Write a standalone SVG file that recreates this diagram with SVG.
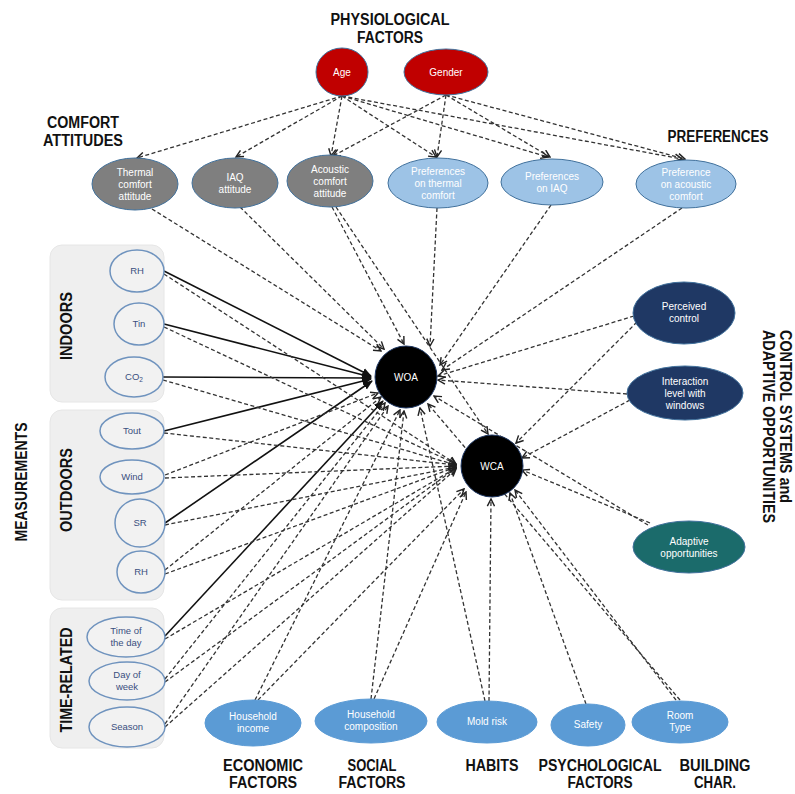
<svg xmlns="http://www.w3.org/2000/svg" width="795" height="794" viewBox="0 0 795 794">
<defs>
<style>
text{font-family:"Liberation Sans",Arial,sans-serif}
.h{font-weight:bold;font-size:16px;fill:#111;text-anchor:middle}
.nl{font-size:10px;fill:#fff;text-anchor:middle}
.ml{font-size:9.5px;fill:#3A4F7F;text-anchor:middle}
.d{fill:none;stroke:#333;stroke-width:1.3;stroke-dasharray:4 2.5;marker-end:url(#ao)}
.s{fill:none;stroke:#111;stroke-width:1.6;marker-end:url(#af)}
.red{fill:#C00000;stroke:#41719C;stroke-width:1}
.gray{fill:#7F7F7F;stroke:#41719C;stroke-width:1}
.lb{fill:#9DC3E6;stroke:#41719C;stroke-width:1}
.meas{fill:#F2F2F2;stroke:#6F93BE;stroke-width:1.5}
.navy{fill:#1F3864;stroke:#41719C;stroke-width:1}
.teal{fill:#1B6B6B;stroke:#41719C;stroke-width:1}
.bot{fill:#5B9BD5;stroke:#5B9BD5;stroke-width:1}
.blk{fill:#000;stroke:#1F3864;stroke-width:1}
.panel{fill:#EFEFEF;stroke:#E6E6E6;stroke-width:1}
</style>
<marker id="ao" viewBox="0 0 10 10" refX="9" refY="5" markerWidth="9" markerHeight="9" orient="auto" markerUnits="userSpaceOnUse"><path d="M1,1 L9,5 L1,9" fill="none" stroke="#222" stroke-width="1.6" stroke-dasharray="none"/></marker>
<marker id="af" viewBox="0 0 10 10" refX="9" refY="5" markerWidth="10" markerHeight="10" orient="auto" markerUnits="userSpaceOnUse"><path d="M0,1 L10,5 L0,9 z" fill="#111"/></marker>
</defs>
<rect width="795" height="794" fill="#fff"/>

<g id="panels">
<rect class="panel" x="50" y="245" width="114" height="157" rx="12"/>
<rect class="panel" x="50" y="410" width="114" height="190" rx="12"/>
<rect class="panel" x="50" y="608" width="114" height="140" rx="12"/>
</g>

<g id="labels">
<text class="h" x="390" y="25" textLength="119" lengthAdjust="spacingAndGlyphs">PHYSIOLOGICAL</text>
<text class="h" x="390" y="43" textLength="66" lengthAdjust="spacingAndGlyphs">FACTORS</text>
<text class="h" x="83" y="128" textLength="72" lengthAdjust="spacingAndGlyphs">COMFORT</text>
<text class="h" x="83" y="146" textLength="80" lengthAdjust="spacingAndGlyphs">ATTITUDES</text>
<text class="h" x="718" y="142" textLength="101" lengthAdjust="spacingAndGlyphs">PREFERENCES</text>
<text class="h" transform="translate(72,326) rotate(-90)" textLength="68" lengthAdjust="spacingAndGlyphs">INDOORS</text>
<text class="h" transform="translate(72,490) rotate(-90)" textLength="84" lengthAdjust="spacingAndGlyphs">OUTDOORS</text>
<text class="h" transform="translate(72,680) rotate(-90)" textLength="105" lengthAdjust="spacingAndGlyphs">TIME-RELATED</text>
<text class="h" transform="translate(27,482) rotate(-90)" textLength="119" lengthAdjust="spacingAndGlyphs">MEASUREMENTS</text>
<text class="h" style="text-anchor:start" transform="translate(780,330) rotate(90)" textLength="173" lengthAdjust="spacingAndGlyphs">CONTROL SYSTEMS and</text>
<text class="h" style="text-anchor:start" transform="translate(763,330) rotate(90)" textLength="193" lengthAdjust="spacingAndGlyphs">ADAPTIVE OPPORTUNITIES</text>
<text class="h" x="263" y="771" textLength="80" lengthAdjust="spacingAndGlyphs">ECONOMIC</text>
<text class="h" x="263" y="788" textLength="68" lengthAdjust="spacingAndGlyphs">FACTORS</text>
<text class="h" x="372" y="771" textLength="49" lengthAdjust="spacingAndGlyphs">SOCIAL</text>
<text class="h" x="372" y="788" textLength="67" lengthAdjust="spacingAndGlyphs">FACTORS</text>
<text class="h" x="492" y="771" textLength="53" lengthAdjust="spacingAndGlyphs">HABITS</text>
<text class="h" x="600" y="771" textLength="123" lengthAdjust="spacingAndGlyphs">PSYCHOLOGICAL</text>
<text class="h" x="600" y="788" textLength="65" lengthAdjust="spacingAndGlyphs">FACTORS</text>
<text class="h" x="715" y="771" textLength="71" lengthAdjust="spacingAndGlyphs">BUILDING</text>
<text class="h" x="715" y="788" textLength="42" lengthAdjust="spacingAndGlyphs">CHAR.</text>
</g>

<g id="connectors">
<path class="d" d="M342,96 L137,158"/>
<path class="d" d="M342,96 L236,157"/>
<path class="d" d="M342,96 L331,156"/>
<path class="d" d="M342,96 L436,157"/>
<path class="d" d="M342,96 L548,157"/>
<path class="d" d="M342,96 L682,159"/>
<path class="d" d="M446,95 L333,156"/>
<path class="d" d="M446,95 L437,157"/>
<path class="d" d="M446,95 L550,157"/>
<path class="d" d="M446,95 L685,159"/>

<path class="d" d="M152,209 L381,351"/>
<path class="d" d="M240,207 L384,349"/>
<path class="d" d="M332,207 L404,344"/>
<path class="d" d="M336,207 L488,434"/>
<path class="d" d="M437,208 L430,346"/>
<path class="d" d="M551,205 L440,365"/>
<path class="d" d="M682,208 L442,370"/>
<path class="d" d="M634,316 L438,376"/>
<path class="d" d="M637,322 L516,443"/>
<path class="d" d="M627,394 L438,380"/>
<path class="d" d="M630,400 L522,458"/>
<path class="d" d="M648,525 L434,396"/>
<path class="d" d="M650,523 L522,470"/>

<path class="d" d="M255,700 L400,410"/>
<path class="d" d="M258,700 L464,489"/>
<path class="d" d="M371,699 L404,411"/>
<path class="d" d="M374,699 L466,492"/>
<path class="d" d="M485,701 L420,408"/>
<path class="d" d="M489,701 L491,499"/>
<path class="d" d="M586,704 L510,493"/>
<path class="d" d="M676,700 L515,490"/>
<path class="d" d="M680,700 L428,404"/>

<path class="s" d="M164,271 L371,376"/>
<path class="s" d="M164,324 L371,377"/>
<path class="s" d="M163,377 L371,378"/>
<path class="s" d="M164,431 L371,379"/>
<path class="s" d="M165,523 L372,381"/>
<path class="s" d="M165,636 L383,401"/>

<path class="d" d="M164,274 L456,464"/>
<path class="d" d="M164,327 L456,464"/>
<path class="d" d="M163,380 L456,465"/>
<path class="d" d="M164,433 L456,465"/>
<path class="d" d="M165,478 L456,466"/>
<path class="d" d="M165,525 L456,467"/>
<path class="d" d="M165,574 L456,467"/>
<path class="d" d="M165,639 L456,468"/>
<path class="d" d="M165,682 L456,468"/>
<path class="d" d="M165,727 L456,469"/>
<path class="d" d="M165,475 L378,393"/>
<path class="d" d="M165,570 L381,397"/>
<path class="d" d="M165,679 L385,403"/>
<path class="d" d="M165,724 L388,406"/>
</g>

<g id="age"><ellipse class="red" cx="342" cy="72" rx="26" ry="24"/><text class="nl" x="342" y="76">Age</text></g>
<g id="gender"><ellipse class="red" cx="446" cy="72" rx="42" ry="23"/><text class="nl" x="446" y="76">Gender</text></g>

<g id="tca"><ellipse class="gray" cx="135" cy="184" rx="43" ry="26"/><text class="nl" x="135" y="176">Thermal<tspan x="135" dy="12">comfort</tspan><tspan x="135" dy="12">attitude</tspan></text></g>
<g id="iaqa"><ellipse class="gray" cx="235" cy="183" rx="43" ry="25"/><text class="nl" x="235" y="181">IAQ<tspan x="235" dy="12">attitude</tspan></text></g>
<g id="aca"><ellipse class="gray" cx="330" cy="181" rx="43" ry="26"/><text class="nl" x="330" y="173">Acoustic<tspan x="330" dy="12">comfort</tspan><tspan x="330" dy="12">attitude</tspan></text></g>
<g id="ptc"><ellipse class="lb" cx="438" cy="183" rx="50" ry="25"/><text class="nl" x="438" y="175">Preferences<tspan x="438" dy="12">on thermal</tspan><tspan x="438" dy="12">comfort</tspan></text></g>
<g id="piaq"><ellipse class="lb" cx="552" cy="182" rx="51" ry="23"/><text class="nl" x="552" y="180">Preferences<tspan x="552" dy="12">on IAQ</tspan></text></g>
<g id="pac"><ellipse class="lb" cx="686" cy="184" rx="50" ry="24"/><text class="nl" x="686" y="176">Preference<tspan x="686" dy="12">on acoustic</tspan><tspan x="686" dy="12">comfort</tspan></text></g>

<g id="rh-in"><ellipse class="meas" cx="137" cy="271" rx="27" ry="21"/><text class="ml" x="137" y="274">RH</text></g>
<g id="tin"><ellipse class="meas" cx="139" cy="324" rx="25" ry="21"/><text class="ml" x="139" y="327">Tin</text></g>
<g id="co2"><ellipse class="meas" cx="134" cy="377" rx="29" ry="20"/><text class="ml" x="134" y="380">CO<tspan font-size="6.5" dy="2">2</tspan></text></g>
<g id="tout"><ellipse class="meas" cx="132" cy="431" rx="32" ry="18"/><text class="ml" x="132" y="434">Tout</text></g>
<g id="wind"><ellipse class="meas" cx="132" cy="477" rx="32" ry="17"/><text class="ml" x="132" y="480">Wind</text></g>
<g id="sr"><ellipse class="meas" cx="140" cy="523" rx="25" ry="24"/><text class="ml" x="140" y="526">SR</text></g>
<g id="rh-out"><ellipse class="meas" cx="141" cy="572" rx="24" ry="21"/><text class="ml" x="141" y="575">RH</text></g>
<g id="tod"><ellipse class="meas" cx="126" cy="637" rx="39" ry="20"/><text class="ml" x="126" y="634">Time of<tspan x="126" dy="12">the day</tspan></text></g>
<g id="dow"><ellipse class="meas" cx="127" cy="681" rx="38" ry="19"/><text class="ml" x="127" y="678">Day of<tspan x="127" dy="12">week</tspan></text></g>
<g id="season"><ellipse class="meas" cx="127" cy="727" rx="38" ry="20"/><text class="ml" x="127" y="730">Season</text></g>

<g id="woa"><circle class="blk" cx="406" cy="377" r="31"/><text class="nl" x="406" y="381" font-size="11">WOA</text></g>
<g id="wca"><circle class="blk" cx="492" cy="466" r="31"/><text class="nl" x="492" y="470" font-size="11">WCA</text></g>

<g id="pc"><ellipse class="navy" cx="684" cy="313" rx="51" ry="31"/><text class="nl" x="684" y="310">Perceived<tspan x="684" dy="12">control</tspan></text></g>
<g id="il"><ellipse class="navy" cx="685" cy="393" rx="58" ry="27"/><text class="nl" x="685" y="385">Interaction<tspan x="685" dy="12">level with</tspan><tspan x="685" dy="12">windows</tspan></text></g>
<g id="ao-node"><ellipse class="teal" cx="689" cy="547" rx="56" ry="26"/><text class="nl" x="689" y="545">Adaptive<tspan x="689" dy="12">opportunities</tspan></text></g>

<g id="hi"><ellipse class="bot" cx="253" cy="723" rx="48" ry="23"/><text class="nl" x="253" y="720">Household<tspan x="253" dy="12">income</tspan></text></g>
<g id="hc"><ellipse class="bot" cx="371" cy="721" rx="56" ry="22"/><text class="nl" x="371" y="718">Household<tspan x="371" dy="12">composition</tspan></text></g>
<g id="mold"><ellipse class="bot" cx="487" cy="722" rx="50" ry="21"/><text class="nl" x="487" y="725">Mold risk</text></g>
<g id="safety"><ellipse class="bot" cx="588" cy="725" rx="37" ry="21"/><text class="nl" x="588" y="728">Safety</text></g>
<g id="room"><ellipse class="bot" cx="680" cy="722" rx="48" ry="21"/><text class="nl" x="680" y="719">Room<tspan x="680" dy="12">Type</tspan></text></g>
</svg>
